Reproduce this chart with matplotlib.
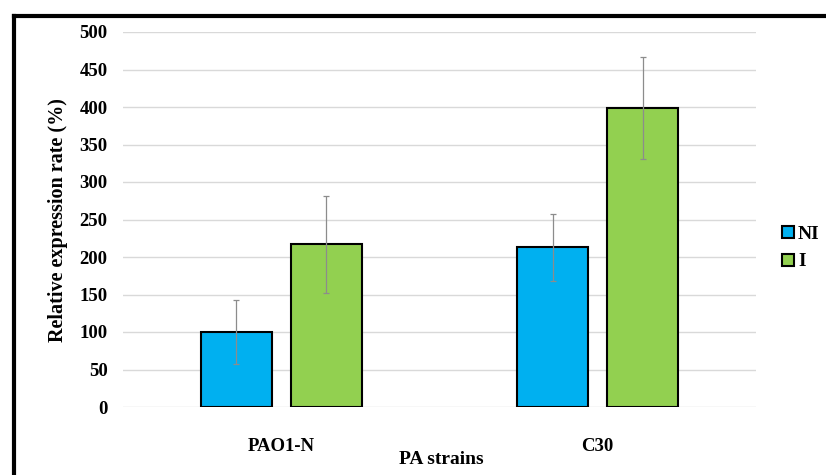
import numpy as np
import matplotlib.pyplot as plt
from matplotlib.lines import Line2D

strains = ["PAO1-N", "C30"]
groups = ["NI", "I"]
ni_vals = [100, 213]
ni_err = [43, 45]
i_vals = [217, 399]
i_err = [65, 68]
yticks = [0, 50, 100, 150, 200, 250, 300, 350, 400, 450, 500]

plt.rcParams['font.family'] = ['Liberation Serif', 'DejaVu Serif']

fig = plt.figure(figsize=(8.26, 4.75), dpi=100)
ax = fig.add_axes([123 / 826, 1 - 407 / 475, 633 / 826, 375 / 475])

x = np.arange(len(strains))
w = 0.225
off = 0.142
ekw = dict(ecolor='#8c8c8c', elinewidth=0.9, capsize=2.5, capthick=0.9)
ax.bar(x - off, ni_vals, w, yerr=ni_err, color='#00B0F0', edgecolor='black',
       linewidth=1.5, error_kw=ekw, label=groups[0], zorder=3)
ax.bar(x + off, i_vals, w, yerr=i_err, color='#92D050', edgecolor='black',
       linewidth=1.5, error_kw=ekw, label=groups[1], zorder=3)

ax.set_xlim(-0.5, 1.5)
ax.set_ylim(0, 500)
ax.set_yticks(yticks)
ax.set_xticks(x)
ax.set_xticklabels(strains, fontsize=13.5, fontweight='bold')
for t in ax.get_yticklabels():
    t.set_fontsize(13.5)
    t.set_fontweight('bold')
ax.yaxis.grid(True, color='#d9d9d9', linewidth=1, zorder=0)
ax.set_axisbelow(True)
for s in ax.spines.values():
    s.set_visible(False)
ax.tick_params(length=0)
ax.tick_params(axis='y', pad=11)
ax.tick_params(axis='x', pad=22)

fig.text(58 / 826, 1 - 220 / 475, "Relative expression rate (%)", rotation=90,
         ha='center', va='center', fontsize=14.5, fontweight='bold')
fig.text(441 / 826, 1 - 460 / 475, "PA strains", ha='center', va='center',
         fontsize=14, fontweight='bold')

handles = [Line2D([], [], marker='s', linestyle='none', markersize=9,
                  markerfacecolor=c, markeredgecolor='black', markeredgewidth=1.5)
           for c in ['#00B0F0', '#92D050']]
leg = fig.legend(handles, groups, loc='center left',
                 bbox_to_anchor=(761 / 826, 1 - 248 / 475), frameon=False,
                 handletextpad=0.0, labelspacing=0.5, handlelength=1.0,
                 prop={'size': 14, 'weight': 'bold'})

# outer frame (left and top only)
fig.add_artist(Line2D([13.5 / 826, 13.5 / 826], [0, 1 - 15.5 / 475],
                      color='black', linewidth=3, transform=fig.transFigure,
                      solid_capstyle='projecting'))
fig.add_artist(Line2D([13.5 / 826, 1], [1 - 15.5 / 475, 1 - 15.5 / 475],
                      color='black', linewidth=3, transform=fig.transFigure,
                      solid_capstyle='projecting'))

fig.savefig('out.png', dpi=100)
